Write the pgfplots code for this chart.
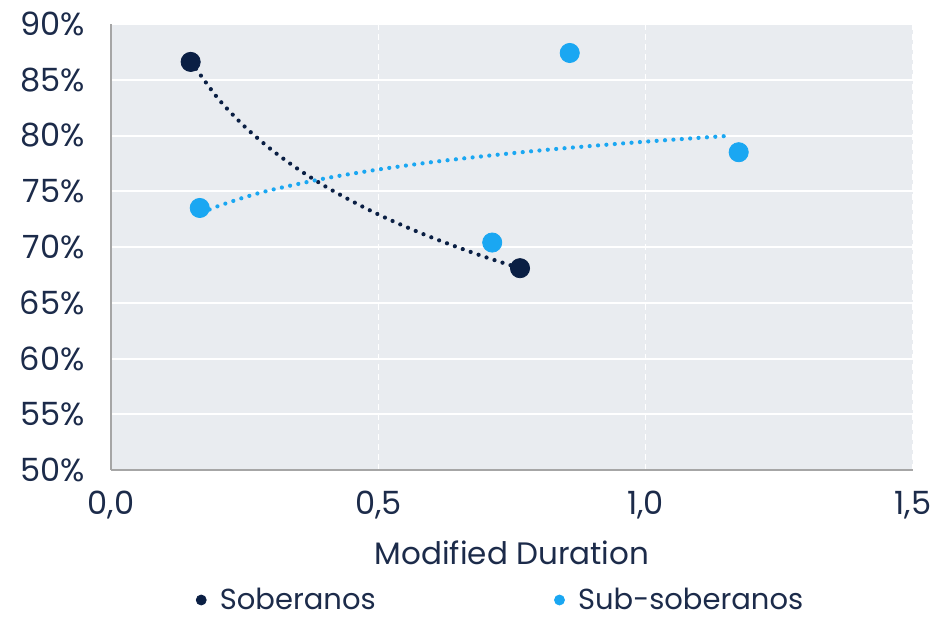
\documentclass[border=0pt]{standalone}
\usepackage{pgfplots}
\pgfplotsset{compat=1.18}
\usepackage{fontspec}
\setmainfont{Poppins}
\definecolor{txt}{HTML}{1C2B4A}
\definecolor{navy}{HTML}{0A1F44}
\definecolor{lblue}{HTML}{1AA7F2}
\definecolor{bg}{HTML}{E9ECF0}
\begin{document}
\begin{tikzpicture}
\begin{axis}[
  scale only axis, width=401pt, height=223pt,
  xmin=0, xmax=1.5, ymin=50, ymax=90,
  xtick={0,0.5,1,1.5}, ytick={50,55,...,90},
  axis x line*=bottom, axis y line*=left,
  axis line style={draw=gray!70, line width=0.8pt},
  major tick length=0pt,
  axis background/.style={fill=bg},
  xmajorgrids, ymajorgrids,
  x grid style={white, dash pattern=on 3pt off 2pt, line width=0.8pt},
  y grid style={white, line width=1pt},
  /pgf/number format/assume math mode=true,
  ticklabel style={font=\fontsize{16}{18}\selectfont, text=txt, inner sep=0pt},
  xticklabel style={/pgf/number format/fixed, /pgf/number format/fixed zerofill, /pgf/number format/precision=1, /pgf/number format/use comma, anchor=center, yshift=-17.5pt},
  yticklabel={\pgfmathprintnumber{\tick}\%},
  yticklabel style={anchor=east, xshift=-13pt},
  xlabel={Modified Duration},
  xlabel style={font=\fontsize{15.5}{18}\selectfont, text=txt, at={(axis description cs:0.5,-0.186)}, anchor=center},
  legend style={at={(0.483,-0.2915)}, anchor=center, draw=none, fill=none,
    font=\fontsize{14.5}{17}\selectfont, text=txt, /tikz/every even column/.append style={column sep=84pt}},
  legend columns=2,
  legend image code/.code={\path (0,0) (0.45cm,0); \fill[#1] (0.2cm,0cm) circle (2.5pt);},
  clip=false,
]
% trend lines
\addplot[forget plot, navy, line width=2.1pt, line cap=round, dash pattern=on 0pt off 4.2pt, smooth] coordinates {
(0.15,86.60) (0.2,83.33) (0.25,80.80) (0.3,78.73) (0.35,76.98) (0.4,75.46) (0.45,74.13)
(0.5,72.92) (0.55,71.84) (0.6,70.85) (0.65,69.95) (0.7,69.10) (0.765,68.09)};
\addplot[forget plot, lblue, line width=2.1pt, line cap=round, dash pattern=on 0pt off 4.2pt, smooth] coordinates {
(0.17,73.07) (0.2,73.66) (0.25,74.46) (0.3,75.12) (0.4,76.15) (0.5,76.95) (0.6,77.61)
(0.7,78.16) (0.8,78.65) (0.9,79.07) (1.0,79.45) (1.1,79.79) (1.15,79.95)};
% points
\addplot[only marks, mark=*, mark size=4.8pt, navy, mark options={draw=navy, fill=navy}] coordinates {
(0.149,86.6) (0.765,68.1)};
\addlegendentry{Soberanos}
\addplot[only marks, mark=*, mark size=4.8pt, lblue, mark options={draw=lblue, fill=lblue}] coordinates {
(0.166,73.5) (0.713,70.4) (0.858,87.4) (1.174,78.5)};
\addlegendentry{Sub-soberanos}
\end{axis}
\path ([xshift=-55.5pt,yshift=-76pt]current axis.south west) rectangle ([xshift=12.5pt,yshift=12pt]current axis.north east);
\end{tikzpicture}
\end{document}
